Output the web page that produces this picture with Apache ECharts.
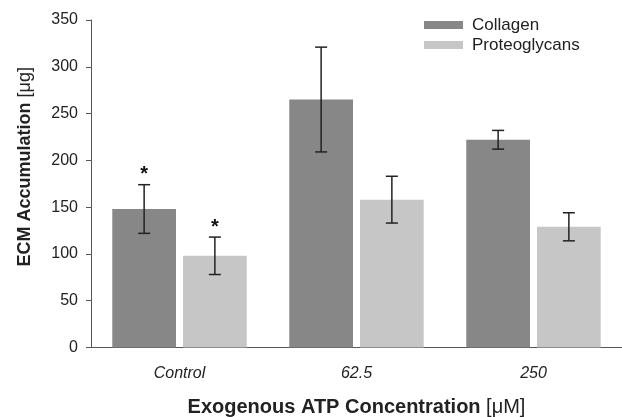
<!DOCTYPE html>
<html>
<head>
<meta charset="utf-8">
<script src="https://cdn.jsdelivr.net/npm/echarts@6/dist/echarts.min.js"></script>
<style>html,body{margin:0;padding:0;background:#fff}#c{width:622px;height:417px}</style>
</head>
<body>
<div id="c"></div>
<script>
var categories = ["Control", "62.5", "250"];
var collagen = [148, 265, 222];
var collagenErr = [26, 56, 10];
var proteoglycans = [98, 158, 129];
var proteoglycansErr = [20, 25, 15];
var collagenSig = ["*", "", ""];
var proteoglycansSig = ["*", "", ""];
var yTicks = [0, 50, 100, 150, 200, 250, 300, 350];

var BAR_W = 0.36, BAR_GAP = 0.11;
var font = "'Liberation Sans', Arial, sans-serif";

function errSeries(vals, errs, sig, side) {
  var data = vals.map(function (v, i) { return [i, v, errs[i]]; });
  return {
    type: 'custom', z: 10,
    data: data,
    renderItem: function (params, api) {
      var i = api.value(0), v = api.value(1), e = api.value(2);
      var s = sig[params.dataIndex];
      var band = api.size([1, 0])[0];
      var bw = band * BAR_W, gap = bw * BAR_GAP;
      var off = side * (bw + gap) / 2;
      var top = api.coord([i, v + e]), bot = api.coord([i, v - e]);
      var x = top[0] + off;
      var cap = 6;
      var st = { stroke: '#222', lineWidth: 1.5 };
      var children = [
        { type: 'line', shape: { x1: x, y1: top[1], x2: x, y2: bot[1] }, style: st },
        { type: 'line', shape: { x1: x - cap, y1: top[1], x2: x + cap, y2: top[1] }, style: st },
        { type: 'line', shape: { x1: x - cap, y1: bot[1], x2: x + cap, y2: bot[1] }, style: st }
      ];
      if (s) {
        children.push({ type: 'text', style: { text: s, x: x, y: top[1], align: 'center', verticalAlign: 'bottom', font: 'bold 20px ' + font, fill: '#111' } });
      }
      return { type: 'group', children: children };
    }
  };
}

var chart = echarts.init(document.getElementById('c'), null, { renderer: 'canvas' });
chart.setOption({
  animation: false,
  backgroundColor: '#fff',
  grid: { left: 91, right: 0, top: 20, bottom: 69.5, containLabel: false, outerBoundsMode: 'none' },
  legend: {
    data: ['Collagen', 'Proteoglycans'],
    orient: 'vertical', left: 419, top: 11,
    icon: 'rect', itemWidth: 39, itemHeight: 8, itemGap: 2,
    textStyle: { fontFamily: font, fontSize: 17, color: '#222', lineHeight: 18, padding: [0, 0, 0, 4] }
  },
  xAxis: {
    type: 'category', data: categories,
    axisLine: { lineStyle: { color: '#555', width: 1 } },
    axisTick: { alignWithLabel: true, length: 4, lineStyle: { color: '#555' } },
    axisLabel: { fontFamily: font, fontSize: 16, fontStyle: 'italic', color: '#222', margin: 18 },
    name: '{b|Exogenous ATP Concentration }{n|[μM]}',
    nameLocation: 'middle', nameGap: 50,
    nameTextStyle: { rich: {
      b: { fontFamily: font, fontSize: 20, fontWeight: 'bold', color: '#222' },
      n: { fontFamily: font, fontSize: 20, color: '#222' } } }
  },
  yAxis: {
    type: 'value', min: 0, max: 350, interval: 50,
    splitLine: { show: false },
    axisLine: { show: true, lineStyle: { color: '#555', width: 1 } },
    axisTick: { show: true, length: 5, lineStyle: { color: '#555' } },
    axisLabel: { fontFamily: font, fontSize: 16, color: '#222', margin: 13,
      formatter: function (v) { return yTicks.indexOf(v) >= 0 ? String(v) : ''; } },
    name: '{b|ECM Accumulation }{n|[μg]}',
    nameLocation: 'middle', nameGap: 57, nameRotate: 90,
    nameTextStyle: { padding: [0, 0, 0, 34], rich: {
      b: { fontFamily: font, fontSize: 18, fontWeight: 'bold', color: '#222' },
      n: { fontFamily: font, fontSize: 18, color: '#222' } } }
  },
  series: [
    { name: 'Collagen', type: 'bar', data: collagen, barWidth: (BAR_W * 100) + '%', barGap: (BAR_GAP * 100) + '%',
      itemStyle: { color: '#878787' } },
    { name: 'Proteoglycans', type: 'bar', data: proteoglycans, barWidth: (BAR_W * 100) + '%', barGap: (BAR_GAP * 100) + '%',
      itemStyle: { color: '#c6c6c6' } },
    errSeries(collagen, collagenErr, collagenSig, -1),
    errSeries(proteoglycans, proteoglycansErr, proteoglycansSig, 1)
  ]
});
</script>
</body>
</html>
